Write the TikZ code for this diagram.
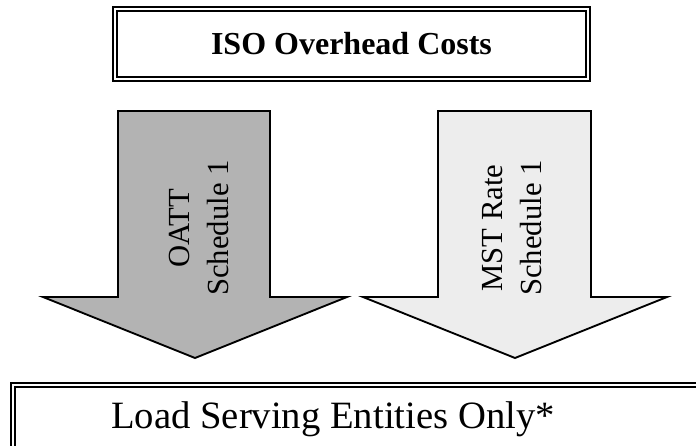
\documentclass[tikz,border=0pt]{standalone}
\usepackage{fontspec}
\setmainfont{Liberation Serif}
\usetikzlibrary{positioning}
\definecolor{oattgray}{RGB}{179,179,179}
\definecolor{mstgray}{RGB}{237,237,237}

\begin{document}
\begin{tikzpicture}[x=0.75pt,y=-0.75pt,
    dbox/.style={draw, double, line width=1.5pt, double distance=1.5pt, inner sep=0pt},
    blockarrow/.style={draw, line width=1.4pt, line join=miter},
    arrowlabel/.style={rotate=90, align=center, font=\fontsize{23}{29}\selectfont}]
    \useasboundingbox (0,0) rectangle (696,446);
    \clip (0,0) rectangle (696,446);
    % top box
    \node[dbox, minimum width=354.75pt, minimum height=52.5pt,
        font=\fontsize{24}{28}\selectfont\bfseries] (iso) at (351.5,44) {ISO Overhead Costs};
    % block arrows
    \draw[blockarrow, fill=oattgray] (118,111) -- (270,111) -- (270,297) -- (347,297)
        -- (195,358) -- (43,297) -- (118,297) -- cycle;
    \draw[blockarrow, fill=mstgray] (438,111) -- (591,111) -- (591,297) -- (667,297)
        -- (515,358) -- (363,297) -- (438,297) -- cycle;
    \node[arrowlabel] (oatt) at (199,228) {OATT\\Schedule 1};
    \node[arrowlabel] (mst) at (512,228) {MST Rate\\Schedule 1};
    % bottom box
    \node[dbox, minimum width=530.25pt, minimum height=50pt] (lse) at (366.5,418.5) {};
    \node[anchor=base, font=\fontsize{29}{34}\selectfont] (lsetext) at (333,428) {Load Serving Entities Only*};
\end{tikzpicture}
\end{document}
